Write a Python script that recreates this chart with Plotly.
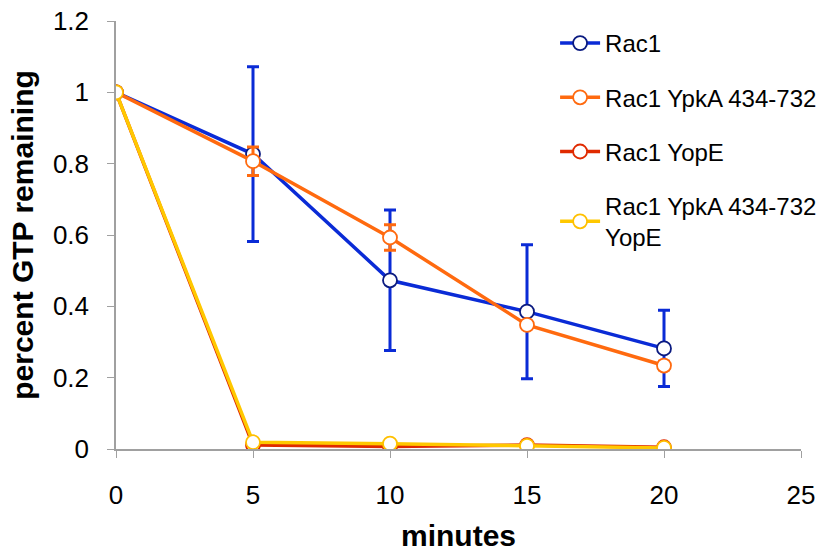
import plotly.graph_objects as go

minutes = [0, 5, 10, 15, 20]

rac1 = [1.0, 0.827, 0.473, 0.385, 0.282]
rac1_err = [0, 0.245, 0.197, 0.188, 0.107]

ypka = [1.0, 0.807, 0.593, 0.348, 0.234]
ypka_err = [0, 0.040, 0.036, 0.0, 0.012]

yope = [1.0, 0.011, 0.007, 0.011, 0.005]
yope_err = [0, 0.008, 0, 0, 0]

ypka_yope = [1.0, 0.019, 0.015, 0.009, 0.003]

names = ["Rac1", "Rac1 YpkA 434-732", "Rac1 YopE", "Rac1 YpkA 434-732<br>YopE"]
line_colors = ["#0A2BD6", "#FF6A0F", "#E02A00", "#FFC800"]
marker_edges = ["#0A1A80", "#FF6A0F", "#E02A00", "#FFC000"]

series = [rac1, ypka, yope, ypka_yope]
errors = [rac1_err, ypka_err, yope_err, None]
err_colors = ["#0A2BD6", "#FF6A0F", "#000000", None]
err_widths = [3, 3, 1.5, None]

fig = go.Figure()
for i, (name, ys) in enumerate(zip(names, series)):
    err = None
    if errors[i] is not None:
        err = dict(type="data", array=errors[i], visible=True,
                   color=err_colors[i], thickness=err_widths[i], width=6)
    fig.add_trace(go.Scatter(
        x=minutes, y=ys, name=name, mode="lines+markers",
        legendgroup=f"g{i}",
        line=dict(color=line_colors[i], width=3.5),
        marker=dict(symbol="circle", size=14, color="white",
                    line=dict(color=marker_edges[i], width=1.8)),
        error_y=err,
    ))

font_family = "Arial, Liberation Sans, sans-serif"
fig.update_layout(
    width=824, height=552,
    margin=dict(l=116, r=23, t=21, b=103, autoexpand=False),
    paper_bgcolor="white", plot_bgcolor="white",
    font=dict(family=font_family, color="black"),
    showlegend=True,
    legend=dict(x=0.641, y=1.0, xanchor="left", yanchor="top",
                font=dict(size=24, family=font_family),
                bgcolor="rgba(0,0,0,0)", tracegroupgap=20,
                itemwidth=40),
    xaxis=dict(range=[0, 25], tickmode="linear", tick0=0, dtick=5,
               automargin=False,
               showline=True, linecolor="#A0A0A0", linewidth=1.5,
               ticks="outside", ticklen=7, tickcolor="#A0A0A0",
               ticklabelstandoff=15,
               showgrid=False, zeroline=False,
               tickfont=dict(size=26),
               title=dict(text="<b>minutes</b>", font=dict(size=30), standoff=20)),
    yaxis=dict(range=[0, 1.2], tickmode="linear", tick0=0, dtick=0.2,
               automargin=False,
               showline=True, linecolor="#A0A0A0", linewidth=1.5,
               ticks="outside", ticklen=7, tickcolor="#A0A0A0",
               ticklabelstandoff=13,
               showgrid=False, zeroline=False,
               tickfont=dict(size=26),
               title=dict(text="<b>percent GTP remaining</b>", font=dict(size=30), standoff=10)),
)

fig.write_html("out.html", config={"displayModeBar": False},
               post_script="document.body.style.margin='0';")
